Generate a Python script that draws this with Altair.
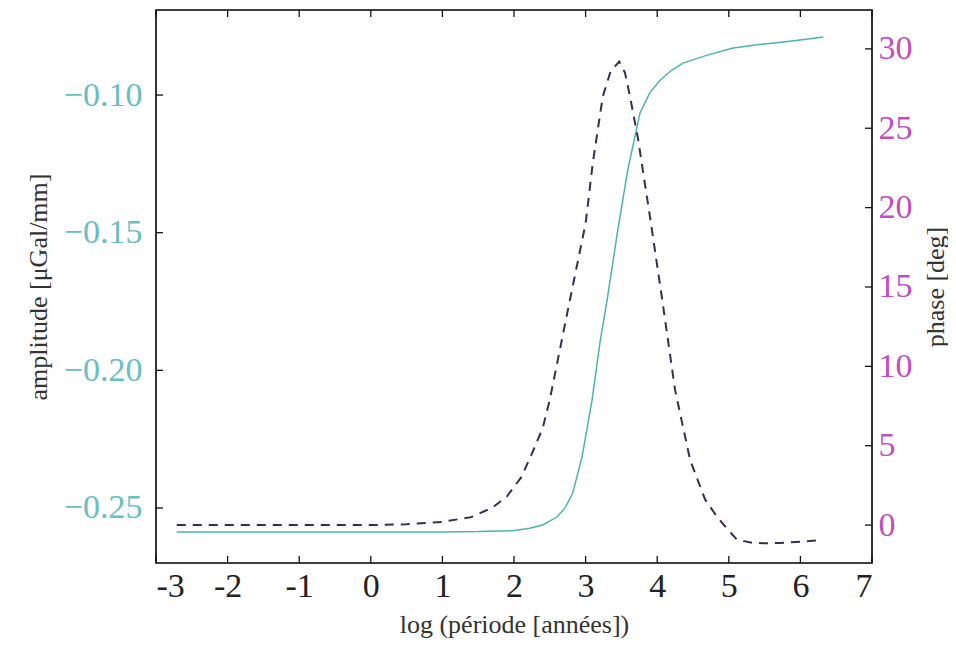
import altair as alt
import pandas as pd

# amplitude (solid, left axis)
amp_x = [-2.71, -2.0, -1.0, 0.0, 1.0, 1.5, 2.0, 2.22, 2.4, 2.6, 2.72, 2.82, 2.95, 3.09, 3.2, 3.3, 3.45, 3.59, 3.76, 3.9, 4.04, 4.2, 4.36, 4.7, 5.06, 5.4, 5.76, 6.05, 6.32]
amp_y = [-0.2587, -0.2587, -0.2587, -0.2587, -0.2587, -0.2586, -0.2582, -0.2574, -0.2562, -0.2533, -0.2497, -0.2446, -0.2315, -0.2108, -0.1900, -0.1745, -0.1490, -0.1270, -0.1065, -0.0990, -0.0946, -0.0910, -0.0884, -0.0855, -0.0829, -0.0817, -0.0807, -0.0798, -0.0789]

# phase (dashed, right axis)
phase_x = [-2.71, -2.0, -1.0, 0.0, 0.5, 1.0, 1.4, 1.7, 1.9, 2.1, 2.25, 2.4, 2.5, 2.75, 3.0, 3.1, 3.24, 3.35, 3.47, 3.55, 3.62, 3.73, 3.9, 4.07, 4.25, 4.46, 4.67, 4.84, 4.97, 5.11, 5.3, 5.5, 5.72, 6.0, 6.3]
phase_y = [0.0, 0.0, 0.0, 0.0, 0.05, 0.2, 0.5, 1.1, 1.8, 3.0, 4.5, 6.1, 7.9, 13.5, 19.0, 22.8, 27.0, 28.6, 29.2, 28.5, 27.0, 24.4, 19.4, 14.2, 8.5, 4.1, 1.6, 0.5, -0.2, -0.9, -1.1, -1.15, -1.13, -1.05, -0.95]

x_ticks = [-3, -2, -1, 0, 1, 2, 3, 4, 5, 6, 7]
amp_ticks = [-0.25, -0.20, -0.15, -0.10]
phase_ticks = [0, 5, 10, 15, 20, 25, 30]

W, H = 716, 553
SERIF = "Liberation Serif"
TL = 7  # inward tick length

df_amp = pd.DataFrame({"x": amp_x, "amp": amp_y})
df_ph = pd.DataFrame({"x": phase_x, "phase": phase_y})
df_xt = pd.DataFrame({"xt": x_ticks})
df_at = pd.DataFrame({"at": amp_ticks})
df_pt = pd.DataFrame({"pt": phase_ticks})

XDOM = [-3, 7]
xs = alt.Scale(domain=XDOM, nice=False, zero=False)
amp_scale = alt.Scale(domain=[-0.2700, -0.0691], nice=False, zero=False)
ph_scale = alt.Scale(domain=[-2.39, 32.45], nice=False, zero=False)

xaxis = alt.Axis(values=x_ticks, labelExpr="'' + datum.value", ticks=False, domain=False, grid=False,
                 labelFont=SERIF, labelFontSize=34, labelColor="#222222", labelPadding=6,
                 title="log (période [années])", titleFont=SERIF, titleFontSize=26,
                 titleFontWeight="normal", titleColor="#333333", titlePadding=8)
laxis = alt.Axis(values=amp_ticks, format=".2f", orient="left", ticks=False, domain=False, grid=False,
                 labelFont=SERIF, labelFontSize=34, labelColor="#6abdc0", labelPadding=14,
                 title="amplitude [μGal/mm]", titleFont=SERIF, titleFontSize=26,
                 titleFontWeight="normal", titleColor="#333333", titlePadding=12)
raxis = alt.Axis(values=phase_ticks, orient="right", ticks=False, domain=False, grid=False,
                 labelFont=SERIF, labelFontSize=34, labelColor="#c04ec0", labelPadding=6,
                 title="phase [deg]", titleFont=SERIF, titleFontSize=26, titleAngle=270,
                 titleFontWeight="normal", titleColor="#333333", titlePadding=36)

TICK = dict(color="#111111", strokeWidth=1.3)

amp_line = alt.Chart(df_amp).mark_line(color="#4fb3aa", strokeWidth=1.5).encode(
    x=alt.X("x:Q", scale=xs, axis=xaxis),
    y=alt.Y("amp:Q", scale=amp_scale, axis=laxis),
)
ph_line = alt.Chart(df_ph).mark_line(color="#3a2d48", strokeWidth=2, strokeDash=[9, 7]).encode(
    x=alt.X("x:Q", scale=xs, axis=None),
    y=alt.Y("phase:Q", scale=ph_scale, axis=raxis),
)
amp_ticks_layer = alt.Chart(df_at).mark_rule(**TICK).encode(
    y=alt.Y("at:Q", scale=amp_scale, axis=None),
    x=alt.value(0), x2=alt.value(TL),
)
ph_ticks_layer = alt.Chart(df_pt).mark_rule(**TICK).encode(
    y=alt.Y("pt:Q", scale=ph_scale, axis=None),
    x=alt.value(W), x2=alt.value(W - TL),
)
x_ticks_bottom = alt.Chart(df_xt).mark_rule(**TICK).encode(
    x=alt.X("xt:Q", scale=xs, axis=None),
    y=alt.value(H), y2=alt.value(H - TL),
)
x_ticks_top = alt.Chart(df_xt).mark_rule(**TICK).encode(
    x=alt.X("xt:Q", scale=xs, axis=None),
    y=alt.value(0), y2=alt.value(TL),
)

chart = alt.layer(amp_line, ph_line, amp_ticks_layer, ph_ticks_layer, x_ticks_bottom, x_ticks_top).resolve_scale(
    x="independent", y="independent"
).resolve_axis(
    x="independent", y="independent"
).properties(
    width=W, height=H,
    autosize=alt.AutoSizeParams(type="none"),
    padding={"left": 148, "top": 2, "right": 76, "bottom": 79},
    background="white",
).configure_view(stroke="black", strokeWidth=1.6)

chart.save("out.html", embed_options={"renderer": "svg", "actions": False})
